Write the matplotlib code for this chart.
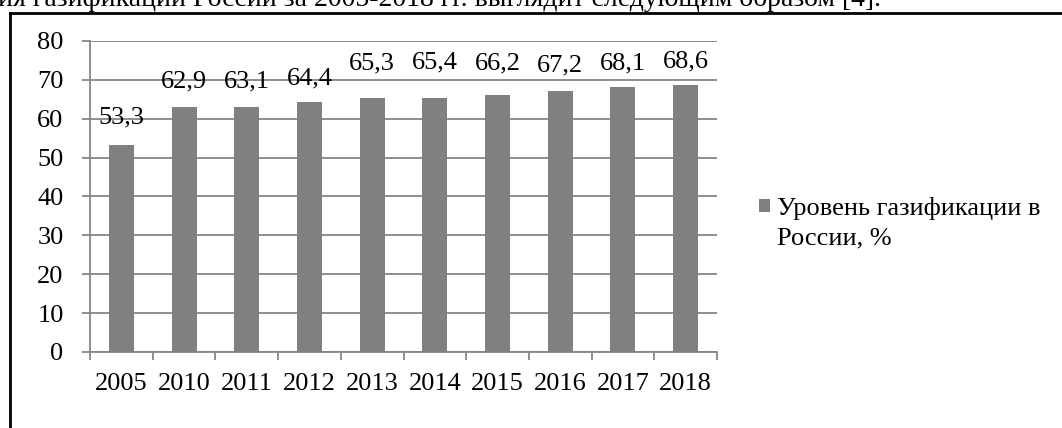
import matplotlib
matplotlib.use("Agg")
import matplotlib.pyplot as plt
from matplotlib.patches import Rectangle
from matplotlib.lines import Line2D

years = ["2005", "2010", "2011", "2012", "2013", "2014", "2015", "2016", "2017", "2018"]
values = [53.3, 62.9, 63.1, 64.4, 65.3, 65.4, 66.2, 67.2, 68.1, 68.6]
value_labels = ["53,3", "62,9", "63,1", "64,4", "65,3", "65,4", "66,2", "67,2", "68,1", "68,6"]
legend_lines = ["Уровень газификации в", "России, %"]
header_text = "ия газификации России за 2005-2018 гг. выглядит следующим образом [4]."

# label offsets above bar tops (pixels) as placed in the original
label_offsets = [27, 26, 25, 23, 35, 35, 31, 25, 24, 24]

plt.rcParams['font.family'] = ['Liberation Serif', 'DejaVu Serif']

W, H = 1062, 428
fig = plt.figure(figsize=(W / 100, H / 100), dpi=100)

FS = 19

# axes placement in pixels
left, right, top, bottom = 90, 717, 41, 352
ax = fig.add_axes([left / W, 1 - bottom / H, (right - left) / W, (bottom - top) / H])

grey = "#868686"
x = list(range(len(years)))
bars = ax.bar(x, values, width=0.4, color="#808080", zorder=3)

ax.set_xlim(-0.5, len(years) - 0.5)
ax.set_ylim(0, 80)
ax.set_yticks(range(0, 81, 10))
ax.set_xticks(x)
ax.set_xticklabels(years)
ax.set_xticks([i - 0.5 for i in range(len(years) + 1)], minor=True)

ax.grid(axis="y", color=grey, linewidth=1.3, zorder=0)
for s in ["top", "right"]:
    ax.spines[s].set_visible(False)
for s in ["left", "bottom"]:
    ax.spines[s].set_color(grey)
    ax.spines[s].set_linewidth(1.3)

ax.tick_params(axis="y", which="major", length=6, width=1.3, color=grey,
               labelsize=FS, pad=13, labelcolor="black")
ax.tick_params(axis="x", which="major", length=0, labelsize=FS, pad=15,
               labelcolor="black")
ax.tick_params(axis="x", which="minor", length=6, width=1.3, color=grey)

for xi, v, lab, off in zip(x, values, value_labels, label_offsets):
    ax.annotate(lab, (xi, v), xytext=(0, off), textcoords="offset pixels",
                ha="center", va="center", fontsize=FS, color="black")

# legend
h1 = Rectangle((0, 0), 1, 1, facecolor="#808080", edgecolor="none")
h2 = Line2D([], [], linestyle="none")
leg = fig.legend([h1, h2], legend_lines, loc="upper left",
                 bbox_to_anchor=(759 / W, 1 - 197 / H), frameon=False,
                 fontsize=FS, handlelength=0.42, handleheight=0.42,
                 handletextpad=0.25, labelspacing=0.3, borderpad=0,
                 borderaxespad=0)

# border of the chart frame
fig.add_artist(Line2D([10 / W, 10 / W], [0, 1 - 12.5 / H], color="black",
                      linewidth=2, transform=fig.transFigure))
fig.add_artist(Line2D([10 / W, 1.0], [1 - 12.5 / H, 1 - 12.5 / H], color="black",
                      linewidth=2, transform=fig.transFigure))

# cut-off header text line from the document
fig.text(-2 / W, 1 - 6.5 / H, header_text, fontsize=20, ha="left", va="baseline",
         color="black")

fig.savefig("out.png", dpi=100)
